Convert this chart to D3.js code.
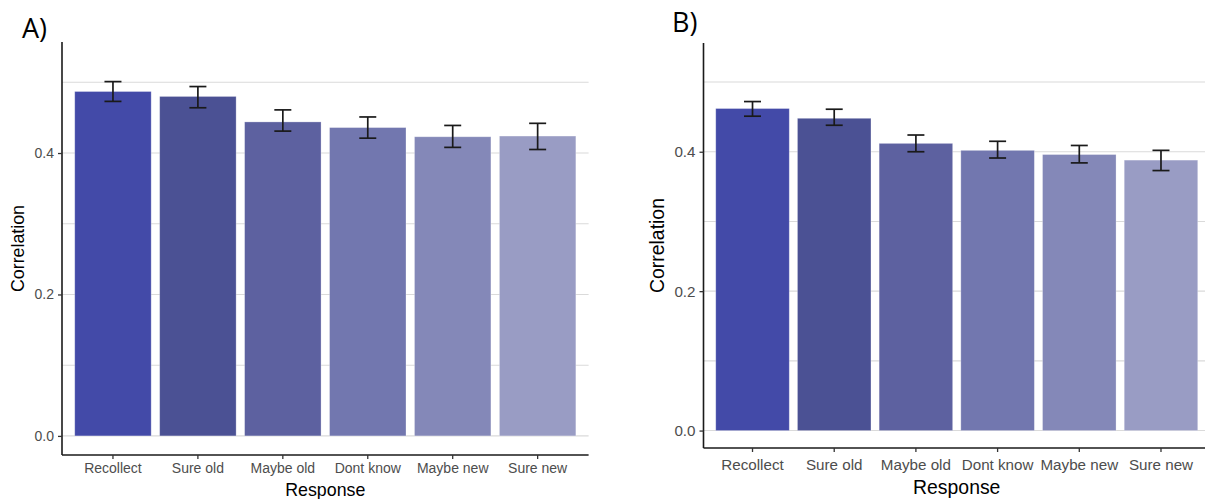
<!DOCTYPE html>
<html>
<head>
<meta charset="utf-8">
<script src="https://cdn.jsdelivr.net/npm/d3@7"></script>
<style>
  html, body { margin: 0; padding: 0; background: #fff; }
  svg { display: block; }
</style>
</head>
<body>
<svg id="chart" width="1205" height="499"></svg>
<script>
// ---------- data ----------
const categories = ["Recollect", "Sure old", "Maybe old", "Dont know", "Maybe new", "Sure new"];
const colors = ["#434aa8", "#4b5194", "#5d61a0", "#7277af", "#8488b8", "#999cc4"];

const valuesA = [0.487, 0.480, 0.444, 0.436, 0.423, 0.424];
const lowerA  = [0.473, 0.464, 0.431, 0.421, 0.408, 0.405];
const upperA  = [0.501, 0.494, 0.461, 0.451, 0.439, 0.442];

const valuesB = [0.462, 0.448, 0.412, 0.402, 0.396, 0.388];
const lowerB  = [0.451, 0.438, 0.400, 0.391, 0.384, 0.373];
const upperB  = [0.472, 0.461, 0.424, 0.415, 0.409, 0.402];

const yTickValues = [0.0, 0.2, 0.4];
const yGridValues = [0.0, 0.1, 0.2, 0.3, 0.4, 0.5];
const panelLabels = ["A)", "B)"];
const xTitle = "Response";
const yTitle = "Correlation";

// ---------- layout ----------
const panels = [
  { label: panelLabels[0], values: valuesA, lower: lowerA, upper: upperA,
    left: 62, right: 588.6, top: 42, bottom: 455, yDomain: [-0.027, 0.557],
    tickFont: 14, titleFont: 17.8, labelX: 22, labelY: 38,
    xTickBaseline: 473, xTitleBaseline: 496, yTitleX: 24, capW: 17 },
  { label: panelLabels[1], values: valuesB, lower: lowerB, upper: upperB,
    left: 703.5, right: 1210, top: 43, bottom: 448, yDomain: [-0.025, 0.556],
    tickFont: 15.2, titleFont: 19.4, labelX: 672, labelY: 32,
    xTickBaseline: 470, xTitleBaseline: 494, yTitleX: 664, capW: 17 }
];

const svg = d3.select("#chart");
const font = "'Liberation Sans', Arial, Helvetica, sans-serif";

panels.forEach(p => {
  const g = svg.append("g");

  const x = d3.scaleBand()
    .domain(categories)
    .range([p.left, p.right])
    .paddingInner(0.1)
    .paddingOuter(0.15);

  const y = d3.scaleLinear()
    .domain(p.yDomain)
    .range([p.bottom, p.top]);

  // gridlines
  g.append("g").selectAll("line")
    .data(yGridValues)
    .join("line")
    .attr("x1", p.left).attr("x2", p.right)
    .attr("y1", d => y(d)).attr("y2", d => y(d))
    .attr("stroke", "#dadada")
    .attr("stroke-width", 1.1);

  // bars
  g.append("g").selectAll("rect")
    .data(categories)
    .join("rect")
    .attr("x", d => x(d))
    .attr("width", x.bandwidth())
    .attr("y", (d, i) => y(p.values[i]))
    .attr("height", (d, i) => y(0) - y(p.values[i]))
    .attr("fill", (d, i) => colors[i])
    .attr("stroke", "rgba(255,255,255,0.35)")
    .attr("stroke-width", 0.8);

  // error bars
  const eb = g.append("g").attr("stroke", "#1a1a1a").attr("stroke-width", 1.7).attr("fill", "none");
  categories.forEach((c, i) => {
    const cx = x(c) + x.bandwidth() / 2;
    eb.append("line").attr("x1", cx).attr("x2", cx).attr("y1", y(p.lower[i])).attr("y2", y(p.upper[i]));
    eb.append("line").attr("x1", cx - p.capW / 2).attr("x2", cx + p.capW / 2).attr("y1", y(p.lower[i])).attr("y2", y(p.lower[i]));
    eb.append("line").attr("x1", cx - p.capW / 2).attr("x2", cx + p.capW / 2).attr("y1", y(p.upper[i])).attr("y2", y(p.upper[i]));
  });

  // y axis
  const yAxis = d3.axisLeft(y).tickValues(yTickValues).tickFormat(d3.format(".1f")).tickSize(4).tickPadding(4);
  const ya = g.append("g").attr("transform", `translate(${p.left},0)`).call(yAxis);
  ya.select(".domain").attr("d", `M0,${p.bottom}V${p.top}`).attr("stroke", "#1a1a1a").attr("stroke-width", 1.6);
  ya.selectAll(".tick line").attr("stroke", "#333").attr("stroke-width", 1.3);
  ya.selectAll(".tick text").attr("fill", "#4d4d4d").attr("font-size", p.tickFont).attr("font-family", font);

  // x axis
  const xAxis = d3.axisBottom(x).tickSize(4).tickPadding(5);
  const xa = g.append("g").attr("transform", `translate(0,${p.bottom})`).call(xAxis);
  xa.select(".domain").attr("d", `M${p.left},0H${p.right}`).attr("stroke", "#1a1a1a").attr("stroke-width", 1.6);
  xa.selectAll(".tick line").attr("stroke", "#333").attr("stroke-width", 1.3);
  xa.selectAll(".tick text")
    .attr("fill", "#4d4d4d").attr("font-size", p.tickFont).attr("font-family", font)
    .attr("dy", null)
    .attr("y", p.xTickBaseline - p.bottom);

  // axis titles
  g.append("text")
    .attr("x", (p.left + Math.min(p.right, 1205)) / 2 + (p.right > 1205 ? (p.right - 1205) / 2 : 0))
    .attr("y", p.xTitleBaseline)
    .attr("text-anchor", "middle")
    .attr("font-family", font).attr("font-size", p.titleFont).attr("fill", "#000")
    .text(xTitle);

  g.append("text")
    .attr("transform", `translate(${p.yTitleX},${(p.top + p.bottom) / 2}) rotate(-90)`)
    .attr("text-anchor", "middle")
    .attr("font-family", font).attr("font-size", p.titleFont).attr("fill", "#000")
    .text(yTitle);

  // panel label
  g.append("text")
    .attr("x", p.labelX).attr("y", p.labelY)
    .attr("font-family", "'Open Sans', 'Noto Sans', sans-serif")
    .attr("font-size", 27).attr("fill", "#000")
    .text(p.label);
});
</script>
</body>
</html>
